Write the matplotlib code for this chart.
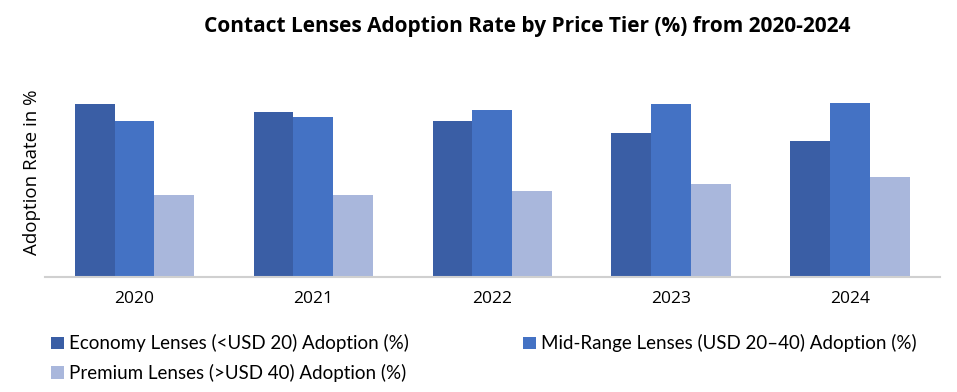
import numpy as np
import matplotlib.pyplot as plt

years = ["2020", "2021", "2022", "2023", "2024"]
economy = [42, 40, 38, 35, 33]
mid_range = [38, 39, 40.5, 42, 42.3]
premium = [20, 20, 21, 22.7, 24.2]

labels = ["Economy Lenses (<USD 20) Adoption (%)",
          "Mid-Range Lenses (USD 20\u201340) Adoption (%)",
          "Premium Lenses (>USD 40) Adoption (%)"]
colors = ["#3A5EA5", "#4472C4", "#A9B7DC"]

fig = plt.figure(figsize=(9.57, 3.92), dpi=100)
ax = fig.add_axes([0.047, 0.293, 0.935, 0.52])

x = np.arange(len(years))
w = 0.223
bars = []
for i, (vals, c) in enumerate(zip([economy, mid_range, premium], colors)):
    bars.append(ax.bar(x + (i - 1) * w, vals, w, color=c, label=labels[i]))

ax.set_xlim(-0.5, len(years) - 0.5)
ax.set_ylim(0, 49.5)
ax.set_xticks(x)
ax.set_xticklabels(years, fontsize=12.5, family="Open Sans")
ax.tick_params(axis="x", length=0, pad=10)
ax.set_yticks([])
for s in ["top", "right", "left"]:
    ax.spines[s].set_visible(False)
ax.spines["bottom"].set_color("#D0D0D0")
ax.spines["bottom"].set_linewidth(1.5)

fig.text(0.033, 0.56, "Adoption Rate in %", rotation=90, ha="center", va="center",
         fontsize=13.5, family="Open Sans")
fig.suptitle("Contact Lenses Adoption Rate by Price Tier (%) from 2020-2024",
             x=0.551, y=0.96, fontsize=15, fontweight="bold", family="Open Sans")

fig.legend(handles=[bars[0], bars[2], bars[1]],
           labels=[labels[0], labels[2], labels[1]],
           ncol=2, loc="upper left", bbox_to_anchor=(0.036, 0.19),
           frameon=False, handlelength=0.65, handleheight=0.65, handletextpad=0.3,
           columnspacing=6.1, labelspacing=0.62,
           prop={"family": "Lato", "size": 13.5})

fig.savefig("out.png", dpi=100)
